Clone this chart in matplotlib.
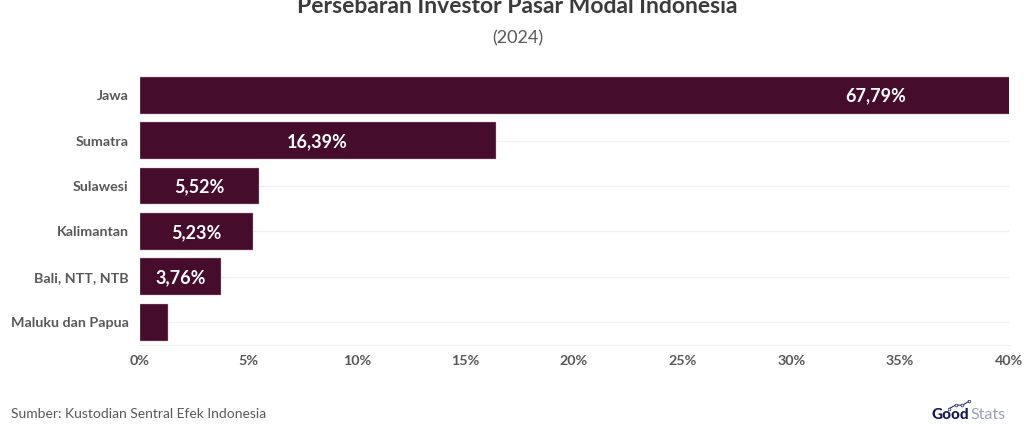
import matplotlib
matplotlib.use("Agg")
import matplotlib.pyplot as plt

regions = ["Jawa", "Sumatra", "Sulawesi", "Kalimantan", "Bali, NTT, NTB", "Maluku dan Papua"]
shares = [67.79, 16.39, 5.52, 5.23, 3.76, 1.31]
bar_labels = ["67,79%", "16,39%", "5,52%", "5,23%", "3,76%", ""]
x_ticks = [0, 5, 10, 15, 20, 25, 30, 35, 40]
x_tick_labels = ["0%", "5%", "10%", "15%", "20%", "25%", "30%", "35%", "40%"]
logo_trend_x = [0, 1, 2, 3]
logo_trend_y = [0.0, 0.5, 0.45, 1.0]

W, H = 1035, 425
plt.rcParams["font.family"] = ["Lato", "DejaVu Sans"]
fig = plt.figure(figsize=(W / 100, H / 100), dpi=100)
L, R, T, B = 139.5, 1008.5, 72.5, 345
ax = fig.add_axes([L / W, 1 - B / H, (R - L) / W, (B - T) / H])

ypos = list(range(len(regions)))
ax.set_axisbelow(True)
ax.barh(ypos, shares, height=0.81, color="#450c2b", edgecolor="#c9a3b8", linewidth=0.3, zorder=3)
ax.set_xlim(0, 40)
ax.set_ylim(5.5, -0.5)
ax.set_yticks(ypos, regions, fontsize=10.3, fontweight="bold", color="#58585a")
ax.set_xticks(x_ticks, x_tick_labels, fontsize=10.3, fontweight="bold", color="#58585a")
ax.tick_params(axis="y", length=0, pad=8)
ax.tick_params(axis="x", length=0, pad=7)
ax.grid(axis="y", color="#eeeeee", linewidth=0.9)
for s in ["top", "right", "left"]:
    ax.spines[s].set_visible(False)
ax.spines["bottom"].set_color("#eeeeee")

for y, v, lab in zip(ypos, shares, bar_labels):
    if lab:
        ax.text(v / 2, y + 0.02, lab, ha="center", va="center", color="white",
                fontsize=13, fontweight="bold", clip_on=True, zorder=4)

fig.text(517.5 / W, 1 - 13 / H, "Persebaran Investor Pasar Modal Indonesia", ha="center", va="baseline",
         fontsize=16.5, fontweight="bold", color="#3b3b3d")
fig.text(517.5 / W, 1 - 38 / H, "(2024)", ha="center", va="center", fontsize=13, color="#58585a")
fig.text(11 / W, 1 - 414 / H, "Sumber: Kustodian Sentral Efek Indonesia", ha="left", va="center",
         fontsize=10, color="#58585a")

fig.text(931 / W, 1 - 419 / H, "Good", ha="left", va="baseline", fontsize=11,
         fontweight="black", color="#15155f")
fig.text(970 / W, 1 - 419 / H, "Stats", ha="left", va="baseline", fontsize=11.5,
         fontweight="normal", color="#9aa0b8")
logo = fig.add_axes([948 / W, 1 - 410 / H, 22 / W, 10 / H])
logo.plot(logo_trend_x, logo_trend_y, color="#15155f", linewidth=0.7, marker="o", markersize=2,
          markerfacecolor="white", markeredgewidth=0.5)
logo.set_xlim(-0.2, 3.2)
logo.set_ylim(-0.2, 1.2)
logo.axis("off")

fig.savefig("out.png", dpi=100)
